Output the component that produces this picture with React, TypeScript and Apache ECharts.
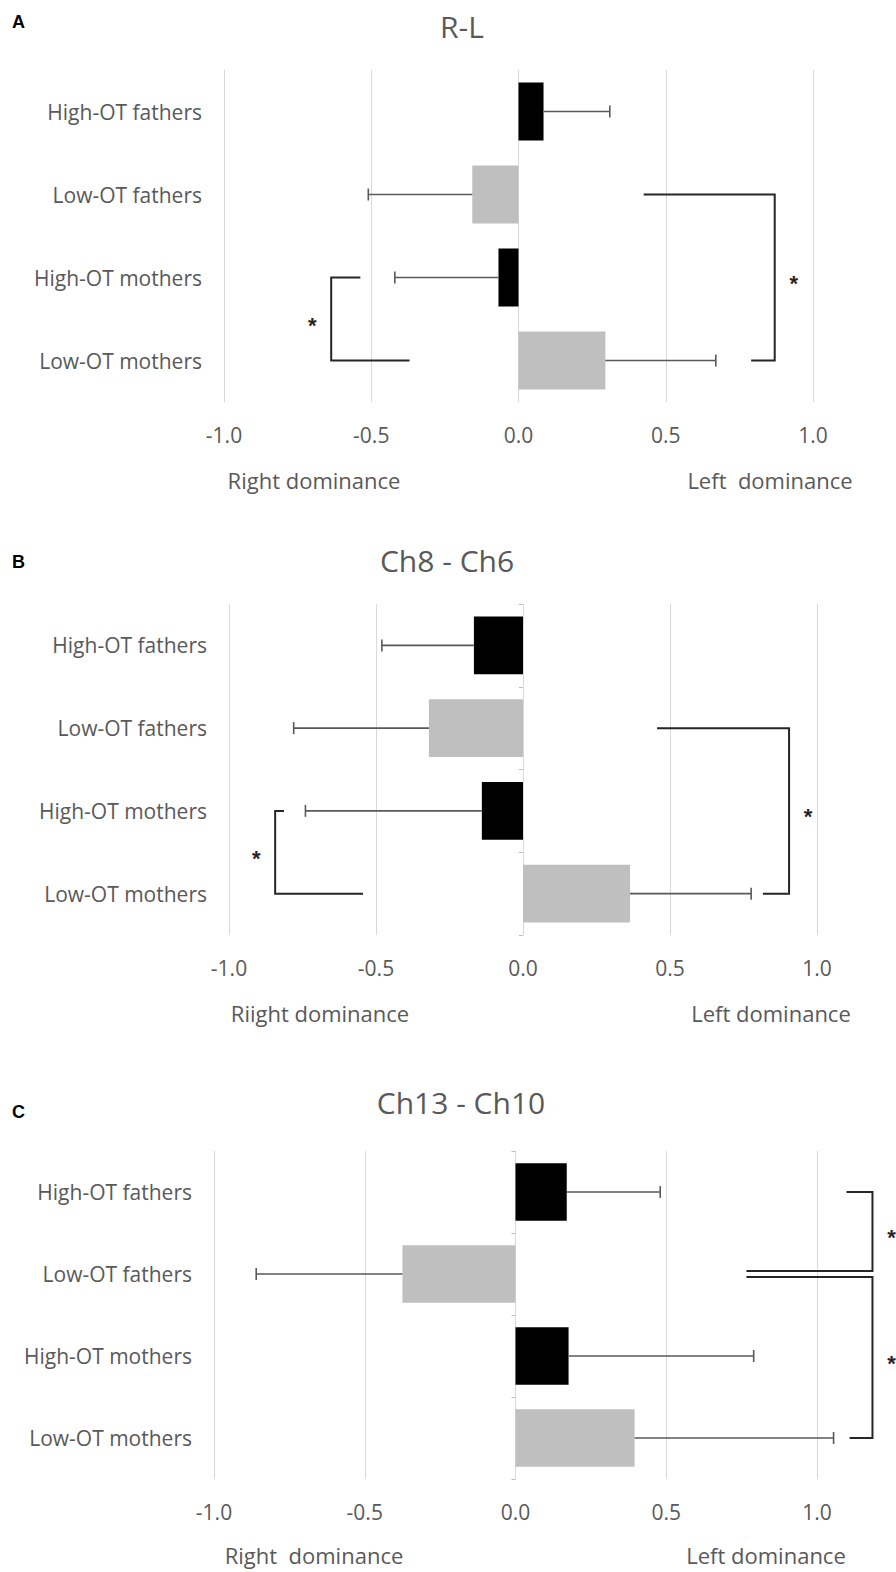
import React, { useEffect, useRef } from "react";
import * as echarts from "echarts";

// ---------- data ----------
const categories = ["High-OT fathers", "Low-OT fathers", "High-OT mothers", "Low-OT mothers"];
const xTicks = [-1.0, -0.5, 0.0, 0.5, 1.0];

const panelLetters = ["A", "B", "C"];
const panelTitles = ["R-L", "Ch8 - Ch6", "Ch13 - Ch10"];
const rightNames = ["Right dominance", "Riight dominance", "Right  dominance"];
const leftNames = ["Left  dominance", "Left dominance", "Left dominance"];

// mean values
const meansA = [0.085, -0.157, -0.068, 0.295];
const meansB = [-0.167, -0.32, -0.14, 0.364];
const meansC = [0.17, -0.375, 0.176, 0.395];

// error magnitude (drawn outward from the bar end)
const errA = [0.225, 0.353, 0.352, 0.375];
const errB = [0.313, 0.46, 0.6, 0.412];
const errC = [0.31, 0.485, 0.614, 0.66];

// significance brackets: [fromCategory, toCategory, topArmStart, bottomArmStart, spine]
const bracketsA = [
  [1, 3, 0.425, 0.79, 0.87],
  [2, 3, -0.537, -0.37, -0.636],
];
const bracketsB = [
  [1, 3, 0.456, 0.816, 0.905],
  [2, 3, -0.813, -0.544, -0.843],
];
const bracketsC = [
  [0, 1, 1.098, 0.766, 1.184],
  [1, 3, 0.766, 1.108, 1.184],
];

const panelMeans = [meansA, meansB, meansC];
const panelErrs = [errA, errB, errC];
const panelBrackets = [bracketsA, bracketsB, bracketsC];

// ---------- layout / style ----------
const grids = [
  { left: 224, top: 70, width: 589, height: 332 },
  { left: 229, top: 604, width: 588, height: 331 },
  { left: 214, top: 1151, width: 603, height: 328 },
];
const titlePos = [
  { x: 462, y: 26 },
  { x: 447, y: 560 },
  { x: 461, y: 1102 },
];
const letterPos = [
  { x: 12, y: 22 },
  { x: 12, y: 562 },
  { x: 12, y: 1112 },
];
const namePos = [
  { ry: 480, rx: 314, lx: 770 },
  { ry: 1013, rx: 320, lx: 771 },
  { ry: 1555, rx: 314, lx: 766 },
];
const showZeroAxis = [false, true, true];

const FONT = "'Open Sans', 'Liberation Sans', sans-serif";
const TEXT = "#595959";
const GRID = "#d9d9d9";
const BLACK = "#000000";
const GRAY = "#bfbfbf";
const ERR = "#595959";
const BRACKET = "#262626";

function buildOption() {
  const xAxis: any[] = [];
  const yAxis: any[] = [];
  const series: any[] = [];
  const graphic: any[] = [];

  grids.forEach((g, p) => {
    xAxis.push({
      gridIndex: p,
      type: "value",
      min: xTicks[0],
      max: xTicks[xTicks.length - 1],
      interval: 0.5,
      axisLine: { show: false },
      axisTick: { show: false },
      splitLine: { show: true, lineStyle: { color: GRID, width: 1 } },
      axisLabel: {
        color: TEXT,
        fontFamily: FONT,
        fontSize: 21,
        margin: 22,
        formatter: (v: number) => v.toFixed(1),
      },
    });
    const labelAxisIndex = yAxis.length;
    yAxis.push({
      gridIndex: p,
      type: "category",
      data: categories,
      inverse: true,
      axisLine: { show: false, onZero: false },
      axisTick: { show: false },
      splitLine: { show: false },
      axisLabel: { color: TEXT, fontFamily: FONT, fontSize: 21, margin: 22 },
    });
    if (showZeroAxis[p]) {
      yAxis.push({
        gridIndex: p,
        type: "category",
        data: categories,
        inverse: true,
        position: "left",
        axisLine: { show: true, onZero: true, lineStyle: { color: GRID, width: 1 } },
        axisTick: { show: true, length: 4, lineStyle: { color: "#bfbfbf" } },
        axisLabel: { show: false },
        splitLine: { show: false },
      });
    }

    const means = panelMeans[p];
    const errs = panelErrs[p];
    const brackets = panelBrackets[p];

    series.push({
      type: "bar",
      xAxisIndex: p,
      yAxisIndex: labelAxisIndex,
      barWidth: "70%",
      silent: true,
      data: means.map((v, i) => ({
        value: v,
        itemStyle: { color: categories[i].startsWith("High") ? BLACK : GRAY },
      })),
    });

    series.push({
      type: "custom",
      xAxisIndex: p,
      yAxisIndex: labelAxisIndex,
      silent: true,
      clip: false,
      z: 5,
      encode: { y: 0, x: [1, 2] },
      data: means.map((v, i) => [i, v, v + Math.sign(v) * errs[i]]),
      renderItem: (params: any, api: any) => {
        const c = api.value(0);
        const p0 = api.coord([api.value(1), c]);
        const p1 = api.coord([api.value(2), c]);
        const st = { stroke: ERR, lineWidth: 1.6 };
        return {
          type: "group",
          children: [
            { type: "line", shape: { x1: p0[0], y1: p0[1], x2: p1[0], y2: p1[1] }, style: st },
            { type: "line", shape: { x1: p1[0], y1: p1[1] - 6, x2: p1[0], y2: p1[1] + 6 }, style: st },
          ],
        };
      },
    });

    series.push({
      type: "custom",
      xAxisIndex: p,
      yAxisIndex: labelAxisIndex,
      silent: true,
      clip: false,
      z: 6,
      encode: { y: [0, 1], x: [2, 3, 4] },
      data: brackets,
      renderItem: (params: any, api: any) => {
        const idx = params.dataIndex;
        const from = api.value(0);
        const to = api.value(1);
        // separate brackets that share a category
        const shareTop = brackets.some((b, j) => j !== idx && b[1] === from);
        const shareBottom = brackets.some((b, j) => j !== idx && b[0] === to);
        const top = api.coord([api.value(2), from]);
        const bottom = api.coord([api.value(3), to]);
        const spineX = api.coord([api.value(4), from])[0];
        const ty = top[1] + (shareTop ? 3 : 0);
        const by = bottom[1] - (shareBottom ? 3 : 0);
        const dir = spineX > top[0] ? 1 : -1;
        return {
          type: "group",
          children: [
            {
              type: "polyline",
              shape: { points: [[top[0], ty], [spineX, ty], [spineX, by], [bottom[0], by]] },
              style: { stroke: BRACKET, lineWidth: 2, fill: null },
            },
            {
              type: "text",
              x: spineX + dir * 19,
              y: (ty + by) / 2 + 6,
              style: {
                text: "*",
                fill: BRACKET,
                fontFamily: "'Liberation Sans', Arial, sans-serif",
                fontSize: 22,
                fontWeight: "bold",
                align: "center",
                verticalAlign: "middle",
              },
            },
          ],
        };
      },
    });

    graphic.push({
      type: "text",
      x: titlePos[p].x,
      y: titlePos[p].y,
      style: {
        text: panelTitles[p],
        fill: TEXT,
        fontFamily: FONT,
        fontSize: 30,
        align: "center",
        verticalAlign: "middle",
      },
    });
    graphic.push({
      type: "text",
      x: letterPos[p].x,
      y: letterPos[p].y,
      style: {
        text: panelLetters[p],
        fill: "#000",
        fontFamily: "'Liberation Sans', Arial, sans-serif",
        fontSize: 18,
        fontWeight: "bold",
        align: "left",
        verticalAlign: "middle",
      },
    });
    graphic.push({
      type: "text",
      x: namePos[p].rx,
      y: namePos[p].ry,
      style: {
        text: rightNames[p],
        fill: TEXT,
        fontFamily: FONT,
        fontSize: 22,
        align: "center",
        verticalAlign: "middle",
      },
    });
    graphic.push({
      type: "text",
      x: namePos[p].lx,
      y: namePos[p].ry,
      style: {
        text: leftNames[p],
        fill: TEXT,
        fontFamily: FONT,
        fontSize: 22,
        align: "center",
        verticalAlign: "middle",
      },
    });
  });

  return {
    animation: false,
    backgroundColor: "#ffffff",
    grid: grids.map((g) => ({ ...g, containLabel: false })),
    xAxis,
    yAxis,
    series,
    graphic,
  };
}

export default function App() {
  const ref = useRef<HTMLDivElement>(null);
  useEffect(() => {
    document.body.style.margin = "0";
    if (!ref.current) return;
    const chart = echarts.init(ref.current, undefined, { renderer: "svg" });
    chart.setOption(buildOption() as any);
    return () => chart.dispose();
  }, []);
  return <div ref={ref} style={{ width: 896, height: 1572 }} />;
}
